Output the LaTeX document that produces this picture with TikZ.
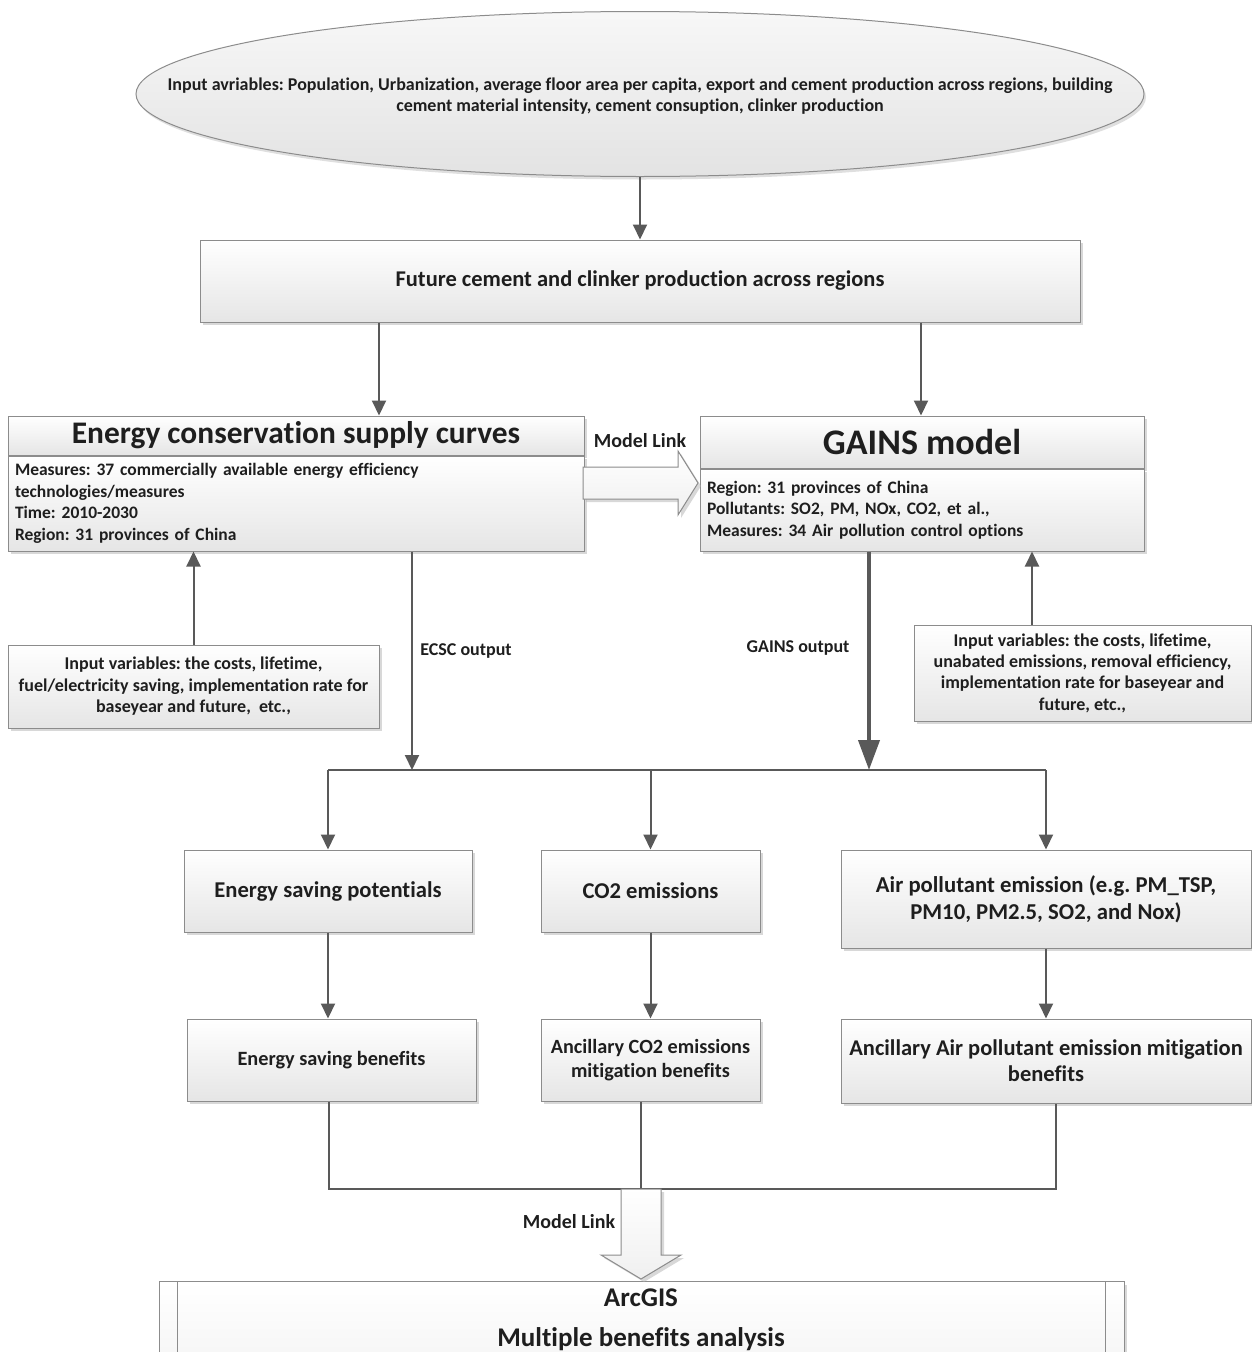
\documentclass[tikz,border=0pt]{standalone}
\usepackage{fontspec}
\setmainfont{Carlito}[Ligatures=NoCommon]
\usetikzlibrary{shapes, shadows, arrows.meta, calc}
\definecolor{linegray}{HTML}{595959}
\definecolor{boxgray}{HTML}{8C8C8C}
\definecolor{inkgray}{HTML}{1E1E1E}
\newcommand{\fs}[2]{\fontsize{#1}{#2}\selectfont\frenchspacing}

\begin{document}
\begin{tikzpicture}[x=1pt, y=-1pt, font=\bfseries, text=inkgray]
			\tikzstyle{flowbox}=[
			draw=boxgray,
			line width=1pt,
			rectangle,
			top color=white,
			bottom color=black!10,
			drop shadow={shadow xshift=3pt, shadow yshift=-3pt, fill=black!30, opacity=0.5},
			align=center,
			inner sep=4pt
			]
			\tikzstyle{bodybox}=[flowbox, text width=#1, align=left]
			\tikzstyle{flow}=[draw=linegray, line width=2pt, -{Triangle[width=14pt,length=15pt]}]
			\tikzstyle{bigflow}=[draw=linegray, line width=4pt, -{Triangle[width=21pt,length=30pt]}]
			\tikzstyle{conn}=[draw=linegray, line width=2pt]
			\tikzstyle{blockarrow}=[draw=boxgray, line width=1pt, top color=white, bottom color=black!6,
			drop shadow={shadow xshift=3pt, shadow yshift=-3pt, fill=black!30, opacity=0.5}]
			\useasboundingbox (0,0) rectangle (1252,1352);
			\clip (0,0) rectangle (1252,1352);
			% inputs
			\node[ellipse, draw=boxgray, line width=1pt, top color=black!3, bottom color=black!11,
			minimum width=1008pt, minimum height=165pt,
			drop shadow={shadow xshift=2pt, shadow yshift=-3pt, fill=black!25, opacity=0.5}] (inputs) at (640,94) {};
			\node[font=\bfseries\fs{18}{21}, align=center] (inputstxt) at (640,96)
			{Input avriables: Population, Urbanization, average floor area per capita, export and cement production across regions, building\\
				cement material intensity, cement consuption, clinker production};
			\node[flowbox, minimum width=880pt, minimum height=82pt, font=\bfseries\fs{22.5}{26}] (future) at (640,281)
			{Future cement and clinker production across regions};
			% the two models
			\node[flowbox, minimum width=576pt, minimum height=39pt, font=\bfseries\fs{31.4}{34}] (ecsch) at (296,435.5)
			{Energy conservation supply curves};
			\node[bodybox=562pt, minimum width=576pt, minimum height=95pt, anchor=north, font=\bfseries\fs{17.5}{21.5}] (ecscb) at (ecsch.south)
			{Measures: 37 commercially available energy efficiency\\
				technologies/measures\\
				Time: 2010-2030\\
				Region: 31 provinces of China};
			\node[flowbox, minimum width=444pt, minimum height=52pt, font=\bfseries\fs{36}{40}] (gainsh) at (922,442)
			{GAINS model};
			\node[bodybox=430pt, minimum width=444pt, minimum height=82pt, anchor=north, font=\bfseries\fs{17.5}{21.5}] (gainsb) at (gainsh.south)
			{Region: 31 provinces of China\\
				Pollutants: SO2, PM, NOx, CO2, et al.,\\
				Measures: 34 Air pollution control options};
			\node[flowbox, minimum width=371pt, minimum height=83pt, font=\bfseries\fs{18}{21.5}] (ecscin) at (193.5,686.5)
			{Input variables: the costs, lifetime,\\
				fuel/electricity saving, implementation rate for\\
				baseyear and future,\ \ etc.,};
			\node[flowbox, minimum width=337pt, minimum height=96pt, font=\bfseries\fs{18}{21.3}] (gainsin) at (1082.5,673)
			{Input variables: the costs, lifetime,\\
				unabated emissions, removal efficiency,\\
				implementation rate for baseyear and\\
				future, etc.,};
			% results
			\node[flowbox, minimum width=288pt, minimum height=82pt, font=\bfseries\fs{22.6}{26}] (esp) at (328,891) {Energy saving potentials};
			\node[flowbox, minimum width=219pt, minimum height=82pt, font=\bfseries\fs{22.6}{26}] (co2) at (650.5,891) {CO2 emissions};
			\node[flowbox, minimum width=410pt, minimum height=98pt, font=\bfseries\fs{22.7}{27}] (air) at (1046,899)
			{Air pollutant emission (e.g. PM\_TSP,\\PM10, PM2.5, SO2, and Nox)};
			\node[flowbox, minimum width=289pt, minimum height=82pt, font=\bfseries\fs{20.3}{24}] (esb) at (331.5,1060) {Energy saving benefits};
			\node[flowbox, minimum width=219pt, minimum height=82pt, font=\bfseries\fs{20.2}{24}] (aco2) at (650.5,1060)
			{Ancillary CO2 emissions\\mitigation benefits};
			\node[flowbox, minimum width=410pt, minimum height=84pt, font=\bfseries\fs{22.5}{26}] (aair) at (1046,1061)
			{Ancillary Air pollutant emission mitigation\\benefits};
			% ArcGIS
			\node[flowbox, minimum width=965pt, minimum height=110pt, anchor=north, top color=white, bottom color=black!5] (arcgis) at (641.5,1281) {};
			\draw[draw=boxgray, line width=1pt] (arcgis.north west) ++(19,0) -- ++(0,110);
			\draw[draw=boxgray, line width=1pt] (arcgis.north east) ++(-19,0) -- ++(0,110);
			\node[font=\bfseries\fs{27}{40}, align=center] (arcgistxt) at (641,1320) {ArcGIS\\Multiple benefits analysis};
			% columns and bus
			\coordinate (colA) at (379,0);
			\coordinate (colB) at (921,0);
			\coordinate (colC) at (412,0);
			\coordinate (colD) at (1032,0);
			\coordinate (colE) at (869,0);
			\coordinate (busL) at (328,770);
			\coordinate (busR) at (1046,770);
			\coordinate (joinL) at (329,1189);
			\coordinate (joinR) at (1056,1189);
			\coordinate (joinM) at (641,1189);
			% connectors
			\draw[flow] (inputs.south) -- (future.north);
			\draw[flow] (future.south -| colA) -- (ecsch.north -| colA);
			\draw[flow] (future.south -| colB) -- (gainsh.north -| colB);
			\draw[flow] (ecscin.north) -- (ecscb.south -| ecscin.north);
			\draw[flow] (gainsin.north -| colD) -- (gainsb.south -| colD);
			\draw[flow] (ecscb.south -| colC) -- (busL -| colC);
			\draw[bigflow] (gainsb.south -| colE) -- (busL -| colE);
			\draw[conn] (busL) -- (busR);
			\draw[flow] (busL) -- (esp.north -| busL);
			\draw[flow] (busL -| co2.north) -- (co2.north);
			\draw[flow] (busR) -- (air.north);
			\draw[flow] (esp.south) -- (esp.south |- esb.north);
			\draw[flow] (co2.south) -- (aco2.north);
			\draw[flow] (air.south) -- (aair.north);
			\draw[conn] (esb.south -| joinL) -- (joinL) -- (joinR) -- (aair.south -| joinR);
			\draw[conn] (aco2.south -| joinM) -- (joinM);
			% model links
			\coordinate (linkA) at (583,483);
			\draw[blockarrow] (linkA) ++(0,-16) -- ++(95,0) -- ++(0,-16) -- ++(20,32) -- ++(-20,32) -- ++(0,-16) -- ++(-95,0) -- cycle;
			\draw[blockarrow] (joinM) ++(-20,0) -- ++(40,0) -- ++(0,66) -- ++(20,0) -- ++(-40,24) -- ++(-40,-24) -- ++(20,0) -- cycle;
			\node[font=\bfseries\fs{20}{22}] (linklabA) at (640,441) {Model Link};
			\node[font=\bfseries\fs{20}{22}] (linklabB) at (569,1222) {Model Link};
			\node[font=\bfseries\fs{18}{20}] (ecscout) at (466,651) {ECSC output};
			\node[font=\bfseries\fs{18}{20}] (gainsout) at (798,648) {GAINS output};
			%\node[draw=red, fit=(ecsch) (ecscb)] {};
		\end{tikzpicture}
\end{document}
